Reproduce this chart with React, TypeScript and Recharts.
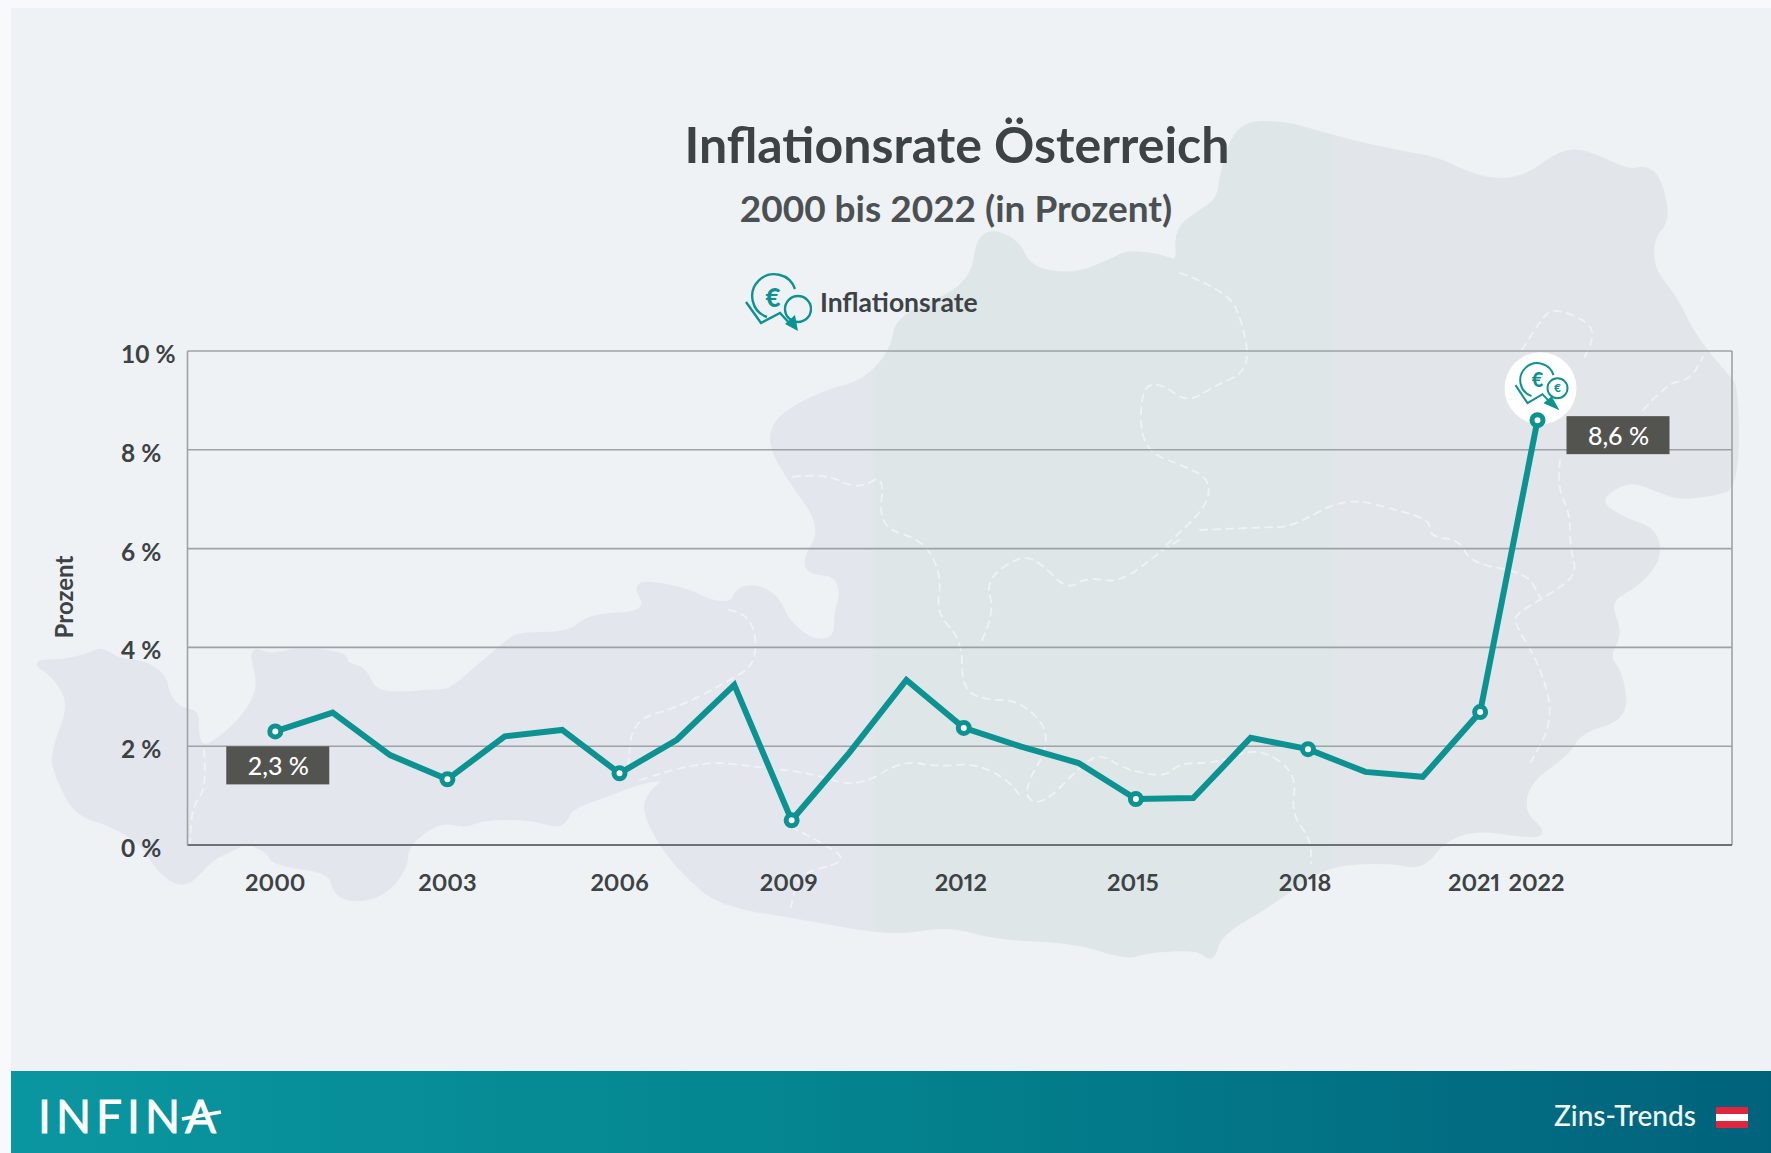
import React from 'react';
import { LineChart, Line, XAxis, YAxis, CartesianGrid, ReferenceLine, Legend, LabelList } from 'recharts';

const years = [2000,2001,2002,2003,2004,2005,2006,2007,2008,2009,2010,2011,2012,2013,2014,2015,2016,2017,2018,2019,2020,2021,2022];
const inflation = [2.3,2.68,1.82,1.33,2.2,2.33,1.45,2.13,3.24,0.5,1.86,3.34,2.37,1.99,1.66,0.93,0.95,2.17,1.94,1.48,1.38,2.69,8.6];
const xTicks = [2000,2003,2006,2009,2012,2015,2018,2021,2022];
const markedYears = [2000,2003,2006,2009,2012,2015,2018,2021,2022];
const yTicks = [0,2,4,6,8,10];
const labelledYears = [2000,2022];

const data = years.map((year, i) => ({ year, inflation: inflation[i] }));

const FONT = 'Lato, "Open Sans", sans-serif';
const TEAL = '#0d9292';
const INK = '#3d4244';

// Decorative backdrop: outline of Austria and its internal state borders
const mapOutline = [[34,662],[63,663],[92,655],[101,650],[120,662],[144,663],[164,677],[166,693],[178,710],[197,713],[195,730],[200,748],[214,745],[245,718],[262,687],[251,649],[269,657],[302,650],[345,655],[345,665],[364,670],[374,693],[403,695],[436,692],[451,692],[479,667],[508,643],[518,635],[570,635],[589,617],[637,615],[647,603],[637,588],[647,583],[690,592],[709,603],[733,605],[738,590],[758,587],[778,600],[785,620],[811,643],[837,640],[837,612],[844,590],[834,573],[814,572],[804,563],[825,527],[789,477],[770,443],[779,417],[825,393],[865,383],[894,350],[898,317],[973,287],[980,230],[1016,240],[1029,270],[1075,277],[1115,260],[1128,253],[1161,257],[1180,265],[1177,230],[1200,213],[1220,200],[1223,170],[1240,123],[1286,125],[1305,130],[1351,143],[1397,153],[1437,160],[1463,173],[1496,183],[1529,177],[1562,152],[1588,153],[1628,173],[1647,168],[1660,183],[1667,220],[1651,237],[1651,270],[1674,297],[1693,337],[1726,377],[1736,387],[1736,486],[1713,493],[1680,497],[1660,490],[1628,477],[1595,500],[1621,520],[1654,530],[1659,557],[1639,583],[1606,600],[1620,633],[1606,657],[1620,673],[1626,717],[1580,730],[1567,753],[1528,780],[1521,813],[1544,833],[1528,835],[1475,827],[1442,840],[1422,867],[1390,860],[1324,863],[1271,903],[1219,933],[1212,960],[1199,947],[1146,950],[1127,957],[1074,940],[995,937],[949,923],[893,933],[804,917],[719,903],[686,873],[666,850],[647,817],[647,797],[671,777],[642,780],[609,793],[570,807],[565,820],[556,825],[532,817],[484,817],[465,825],[446,820],[427,827],[405,847],[405,867],[384,893],[355,900],[336,893],[331,870],[274,863],[269,850],[245,840],[235,847],[211,857],[185,887],[159,870],[144,843],[111,823],[77,813],[58,777],[53,753],[73,703],[53,673]];
const mapBorders = [
  [[1180,273],[1227,290],[1243,323],[1250,370],[1213,387],[1187,403],[1161,383],[1141,387],[1141,450],[1187,467],[1210,480],[1207,507],[1161,550]],
  [[1200,530],[1266,527],[1292,527],[1345,497],[1397,510],[1430,520],[1430,537],[1460,540],[1470,563],[1527,573],[1540,597]],
  [[1522,350],[1542,317],[1555,308],[1591,323],[1593,340],[1583,360]],
  [[1643,410],[1667,383],[1690,380],[1703,357]],
  [[1560,460],[1557,487],[1570,513],[1570,547],[1577,573],[1557,590],[1517,613],[1514,623],[1541,667],[1554,720],[1528,767]],
  [[793,477],[825,473],[858,490],[885,473],[878,527],[924,540],[942,577],[936,613],[962,640],[962,687],[982,700],[1021,700],[1054,737],[1021,793],[1041,807],[1080,767],[1100,753],[1126,770],[1166,777],[1179,763],[1219,763],[1258,747],[1297,773],[1291,813],[1311,840],[1311,863]],
  [[982,640],[995,613],[985,580],[1021,555],[1041,563],[1067,590],[1087,577],[1120,583],[1159,553],[1179,540]],
  [[640,780],[699,760],[758,767],[811,773],[857,788],[903,760],[936,767],[975,763],[1008,780],[1021,797]],
  [[729,610],[752,613],[758,663],[725,683],[679,707],[632,720],[628,770]],
  [[791,827],[837,850],[844,863],[798,873],[791,907]],
  [[204,750],[207,787],[192,807],[190,843]],
];

// Rounds the traced corners: each vertex becomes a quadratic control point between edge midpoints.
function smooth(p: number[][], closed: boolean) {
  const mid = (a: number[], b: number[]) => [(a[0] + b[0]) / 2, (a[1] + b[1]) / 2];
  if (closed) {
    const start = mid(p[p.length - 1], p[0]);
    let d = `M ${start[0]} ${start[1]}`;
    p.forEach((q, i) => {
      const m = mid(q, p[(i + 1) % p.length]);
      d += ` Q ${q[0]} ${q[1]} ${m[0]} ${m[1]}`;
    });
    return d + ' Z';
  }
  let d = `M ${p[0][0]} ${p[0][1]}`;
  for (let i = 1; i < p.length - 1; i++) {
    const m = mid(p[i], p[i + 1]);
    d += ` Q ${p[i][0]} ${p[i][1]} ${m[0]} ${m[1]}`;
  }
  const l = p[p.length - 1];
  return d + ` L ${l[0]} ${l[1]}`;
}

function Backdrop() {
  return (
    <svg width={1771} height={1153} style={{ position: 'absolute', left: 0, top: 0 }}>
      <defs>
        <linearGradient id="banner" x1="0" x2="1" y1="0" y2="0">
          <stop offset="0" stopColor="#0a96a0" />
          <stop offset="0.45" stopColor="#04858f" />
          <stop offset="1" stopColor="#01627c" />
        </linearGradient>
        <linearGradient id="mapFill" gradientUnits="userSpaceOnUse" x1="0" x2="1771" y1="0" y2="0">
          <stop offset="0" stopColor="#e3e7ed" />
          <stop offset="0.49" stopColor="#e3e7ed" />
          <stop offset="0.495" stopColor="#dfe6e8" />
          <stop offset="0.75" stopColor="#dfe6e8" />
          <stop offset="0.755" stopColor="#e2e6ea" />
          <stop offset="1" stopColor="#e2e6ea" />
        </linearGradient>
      </defs>
      <rect x={0} y={0} width={1771} height={1153} fill="#f8f9fb" />
      <rect x={11} y={8} width={1760} height={1063} fill="#eef2f4" />
      <path d={smooth(mapOutline, true)} fill="url(#mapFill)" stroke="url(#mapFill)" strokeWidth={6} strokeLinejoin="round" />
      {mapBorders.map((b, i) => (
        <path key={i} d={smooth(b, false)} fill="none" stroke="#eff3f5" strokeWidth={1.8} strokeDasharray="7 6" strokeLinecap="round" />
      ))}
      <text x={957} y={163} textAnchor="middle" fontFamily={FONT} fontWeight={700} fontSize={50} fill={INK}>Inflationsrate Österreich</text>
      <text x={956} y={222} textAnchor="middle" fontFamily={FONT} fontWeight={700} fontSize={37} fill="#4b5052">2000 bis 2022 (in Prozent)</text>
      <text x={65} y={597} transform="rotate(-90 65 597)" dy={8} textAnchor="middle" fontFamily={FONT} fontWeight={700} fontSize={24} fill={INK}>Prozent</text>
      <rect x={11} y={1071} width={1760} height={82} fill="url(#banner)" />
      <text x={38} y={1133} fontFamily={FONT} fontWeight={400} fontSize={46} fill="#ffffff" stroke="#ffffff" strokeWidth={0.8} letterSpacing={5}>INFINA</text>
      <line x1={182} y1={1119} x2={221} y2={1112} stroke="#ffffff" strokeWidth={3.5} />
      <text x={1554} y={1126} fontFamily={FONT} fontWeight={500} fontSize={28} fill="#f2f8f9">Zins-Trends</text>
      <rect x={1716} y={1107} width={32} height={21} fill="#e2243c" />
      <rect x={1716} y={1114} width={32} height={7} fill="#ffffff" />
    </svg>
  );
}

function LegendIcon() {
  return (
    <svg width={72} height={60} style={{ display: 'block' }}>
      <path d="M 27 45 A 22 22 0 1 1 55 17" fill="none" stroke={TEAL} strokeWidth={2.4} />
      <circle cx={58} cy={37} r={13} fill="none" stroke={TEAL} strokeWidth={2.4} />
      <text x={33} y={35} textAnchor="middle" fontFamily={FONT} fontWeight={900} fontSize={26} fill={TEAL}>€</text>
      <polyline points="6,30 21,51 40,41 52,54" fill="none" stroke={TEAL} strokeWidth={2.4} />
      <polygon points="58,59 45,52 55,43" fill={TEAL} />
    </svg>
  );
}

function renderLegend() {
  return (
    <div style={{ display: 'flex', alignItems: 'center', fontFamily: FONT }}>
      <LegendIcon />
      <span style={{ fontSize: 26.5, fontWeight: 700, color: INK, marginLeft: 8, whiteSpace: 'nowrap' }}>Inflationsrate</span>
    </div>
  );
}

function renderDot(props: any) {
  const { cx, cy, payload, index } = props;
  if (!markedYears.includes(payload.year)) return <g key={index} />;
  const last = payload.year === years[years.length - 1];
  return (
    <g key={index}>
      {last && (
        <g>
          <circle cx={cx + 3} cy={cy - 32} r={36} fill="#ffffff" />
          <path d={`M ${cx - 6} ${cy - 24} A 17 17 0 1 1 ${cx + 16} ${cy - 45}`} fill="none" stroke={TEAL} strokeWidth={2} />
          <text x={cx} y={cy - 33} textAnchor="middle" fontFamily={FONT} fontWeight={900} fontSize={20} fill={TEAL}>€</text>
          <circle cx={cx + 20} cy={cy - 32} r={10} fill="#ffffff" stroke={TEAL} strokeWidth={2} />
          <text x={cx + 20} y={cy - 28} textAnchor="middle" fontFamily={FONT} fontWeight={900} fontSize={12} fill={TEAL}>€</text>
          <polyline points={`${cx - 22},${cy - 35} ${cx - 10},${cy - 17} ${cx + 5},${cy - 26} ${cx + 16},${cy - 14}`} fill="none" stroke={TEAL} strokeWidth={2} />
          <polygon points={`${cx + 22},${cy - 10} ${cx + 6},${cy - 17} ${cx + 14},${cy - 24}`} fill={TEAL} />
        </g>
      )}
      <circle cx={cx} cy={cy} r={5.5} fill="#ffffff" stroke={TEAL} strokeWidth={5} />
    </g>
  );
}

function renderValueLabel(props: any) {
  const { x, y, index } = props;
  const year = years[index];
  if (!labelledYears.includes(year)) return <g key={index} />;
  const first = year === labelledYears[0];
  const bx = first ? x - 49 : x + 29;
  const by = first ? y + 15 : y - 4;
  const text = inflation[index].toFixed(1).replace('.', ',') + ' %';
  return (
    <g key={index}>
      <rect x={bx} y={by} width={103} height={38} fill="#53534f" />
      <text x={bx + 52} y={by + 29} textAnchor="middle" fontFamily={FONT} fontWeight={500} fontSize={25} fill="#ffffff">{text}</text>
    </g>
  );
}

function YTick(props: any) {
  const { y, payload } = props;
  return (
    <text x={121} y={y + 12} fontFamily={FONT} fontWeight={700} fontSize={24.5} fill={INK} textAnchor="start">{payload.value} %</text>
  );
}

function XTick(props: any) {
  const { x, y, payload } = props;
  const nudge = payload.value === 2021 ? -6 : payload.value === 2022 ? -1 : payload.value >= 2009 ? -3 : 0;
  return (
    <text x={x + nudge} y={y + 38} fontFamily={FONT} fontWeight={700} fontSize={23.5} fill={INK} textAnchor="middle" style={{ fontVariantNumeric: 'proportional-nums', fontFeatureSettings: '"pnum"' }}>{payload.value}</text>
  );
}

export default function App() {
  const xMin = 1998.47;
  const xMax = 2025.39;
  return (
    <div style={{ position: 'absolute', left: 0, top: 0, width: 1771, height: 1153, overflow: 'hidden' }}>
      <Backdrop />
      <div style={{ position: 'absolute', left: 0, top: 0 }}>
        <LineChart width={1771} height={1153} data={data} margin={{ top: 351, right: 39, bottom: 248, left: 127.5 }}>
          <CartesianGrid vertical={false} stroke="#9da2a5" strokeWidth={1.6} />
          <XAxis dataKey="year" type="number" scale="linear" domain={[xMin, xMax]} allowDataOverflow ticks={xTicks} height={60} tick={XTick} tickLine={false} axisLine={{ stroke: '#6d7276', strokeWidth: 1.8 }} interval={0} />
          <YAxis type="number" domain={[0, 10]} ticks={yTicks} width={60} tick={YTick} tickLine={false} axisLine={{ stroke: '#9da2a5', strokeWidth: 1.6 }} interval={0} />
          <ReferenceLine x={xMax} stroke="#9da2a5" strokeWidth={1.6} />
          <Legend layout="horizontal" verticalAlign="middle" align="center" content={renderLegend} wrapperStyle={{ left: 740, top: 272, width: 260, height: 60 }} />
          <Line dataKey="inflation" type="linear" stroke={TEAL} strokeWidth={6} strokeLinejoin="miter" dot={renderDot} activeDot={false} isAnimationActive={false} legendType="none">
            <LabelList dataKey="inflation" content={renderValueLabel} />
          </Line>
        </LineChart>
      </div>
    </div>
  );
}
